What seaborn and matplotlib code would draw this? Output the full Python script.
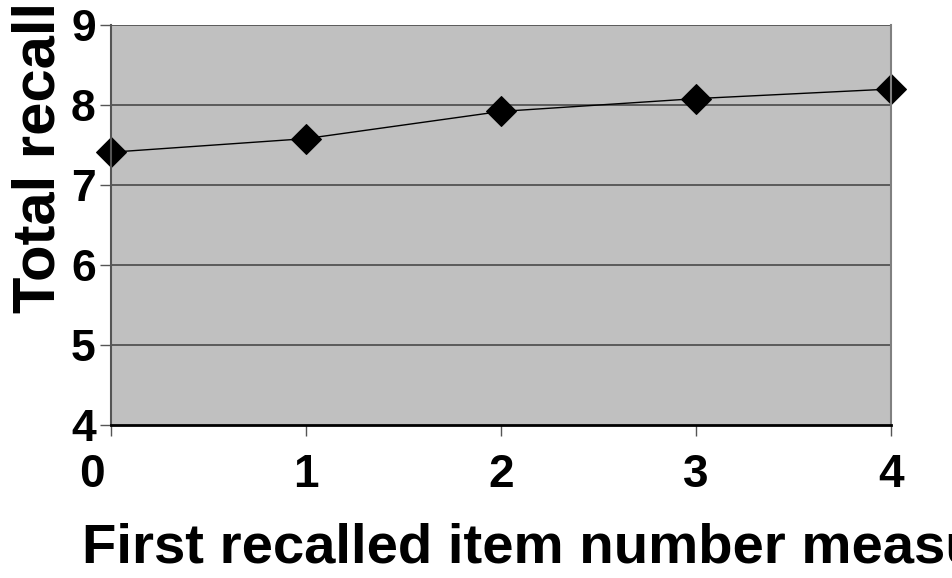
import matplotlib
matplotlib.use("Agg")
import matplotlib.pyplot as plt
import matplotlib.transforms as mtransforms
import seaborn as sns

# values
first_item = [0, 1, 2, 3, 4]
total_recall = [7.41, 7.58, 7.92, 8.08, 8.20]
y_ticks = [4, 5, 6, 7, 8, 9]

sns.set_style("white", {"axes.facecolor": "#C0C0C0"})
plt.rcParams["font.family"] = ["Liberation Sans", "DejaVu Sans"]
plt.rcParams["font.weight"] = "bold"
plt.rcParams["text.color"] = "black"
plt.rcParams["axes.labelcolor"] = "black"
plt.rcParams["xtick.color"] = "black"
plt.rcParams["ytick.color"] = "black"

fig = plt.figure(figsize=(9.52, 5.78), dpi=100)
ax = fig.add_axes([0.1166, 0.2647, 0.8193, 0.692])

sns.lineplot(x=first_item, y=total_recall, ax=ax, color="black", linewidth=1.0,
             marker="D", markersize=15, markeredgecolor="black", clip_on=False)

ax.set_xlim(0, 4)
ax.set_ylim(4, 9)
ax.set_xticks(first_item)
ax.set_yticks(y_ticks)
for y in y_ticks[1:]:
    ax.axhline(y, color="#4a4a4a", linewidth=1.2, zorder=0.5)

ax.tick_params(axis="y", direction="out", length=8, width=1, color="#555555",
               labelcolor="black", labelsize=32, pad=3, left=True)
ax.tick_params(axis="x", direction="out", length=8, width=1, color="#555555",
               labelcolor="black", labelsize=33, pad=12, bottom=True)
for lab in ax.get_xticklabels() + ax.get_yticklabels():
    lab.set_fontweight("bold")

# the "0" label sits a bit to the left of its tick, clear of the "4"
first = ax.get_xticklabels()[0]
first.set_transform(first.get_transform() +
                    mtransforms.ScaledTranslation(-19 / 100, 0, fig.dpi_scale_trans))

ax.spines["top"].set_visible(False)
ax.spines["bottom"].set_color("black")
ax.spines["bottom"].set_linewidth(2)
ax.spines["left"].set_color("#555555")
ax.spines["left"].set_linewidth(1.5)
ax.spines["right"].set_color("#808080")
ax.spines["right"].set_linewidth(1.5)

ax.set_xlabel("First recalled item number measure", fontsize=40.5, fontweight="bold",
              ha="left", va="baseline")
ax.xaxis.set_label_coords(-0.037, -0.345)
ax.set_ylabel("Total recall", fontsize=43, fontweight="bold", ha="left", va="baseline")
ax.yaxis.set_label_coords(-0.072, 0.28)

fig.savefig("out.png", dpi=100)
